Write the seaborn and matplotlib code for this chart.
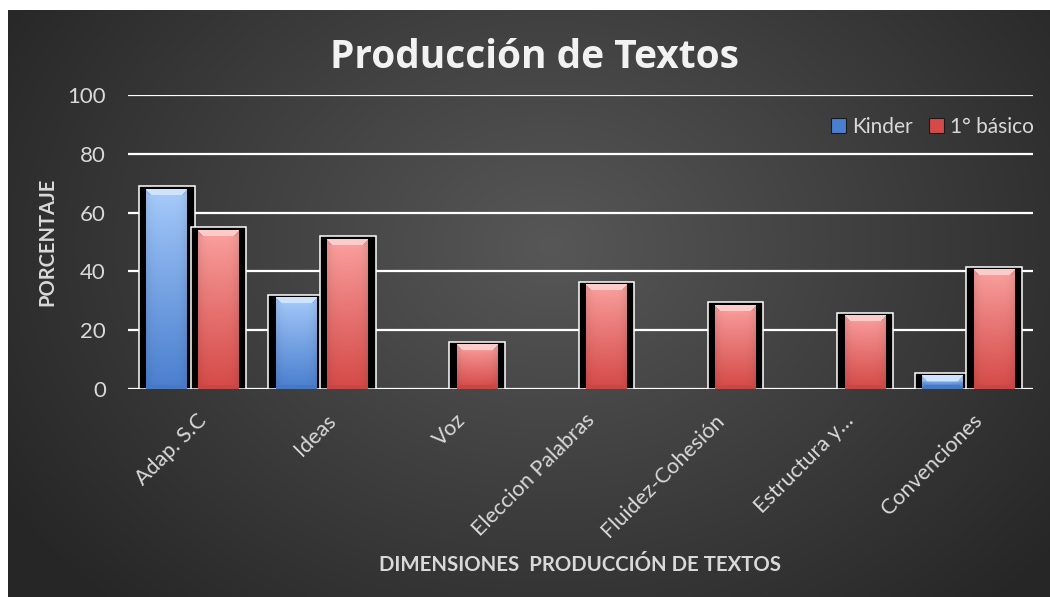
import numpy as np
import pandas as pd
import matplotlib
matplotlib.use("Agg")
import matplotlib.pyplot as plt
import matplotlib.transforms as mtransforms
import seaborn as sns
from matplotlib.patches import Patch
from matplotlib.colors import to_rgb

# ---------------- data ----------------
categories = ["Adap. S.C", "Ideas", "Voz", "Eleccion Palabras",
              "Fluidez-Cohesión", "Estructura y…", "Convenciones"]
series_names = ["Kinder", "1° básico"]
kinder = [68, 31, 0, 0, 0, 0, 4.5]
basico = [54, 51, 15, 35.5, 28.5, 25, 40.5]
yticks = [0, 20, 40, 60, 80, 100]

title = "Producción de Textos"
ylabel = "PORCENTAJE"
xlabel = "DIMENSIONES  PRODUCCIÓN DE TEXTOS"

df = pd.DataFrame({
    "cat": categories * 2,
    "serie": [series_names[0]] * len(categories) + [series_names[1]] * len(categories),
    "val": kinder + basico,
})

# ---------------- style ----------------
sns.set_style("dark")
plt.rcParams["font.family"] = ["Lato", "DejaVu Sans"]
TXT = "#d9d9d9"
top_cols = {"Kinder": "#a9cdfc", "1° básico": "#fba3a1"}
bot_cols = {"Kinder": "#4a7fcf", "1° básico": "#d54a48"}

W, H = 1050, 597
fig = plt.figure(figsize=(W / 100, H / 100), dpi=100, facecolor="white")

# background panel with radial gradient
bg = fig.add_axes([8 / W, 0, 1 - 8 / W, 1 - 10 / H])
bg.set_zorder(0)
ny, nx = 300, 520
yy, xx = np.mgrid[0:ny, 0:nx]
cx, cy = nx * 0.52, ny * 0.40
d = np.sqrt(((xx - cx) / (nx * 0.62)) ** 2 + ((yy - cy) / (ny * 0.85)) ** 2)
d = np.clip(d, 0, 1)
c_in = np.array(to_rgb("#575757"))
c_out = np.array(to_rgb("#262626"))
img = c_in[None, None, :] * (1 - d[..., None]) + c_out[None, None, :] * d[..., None]
bg.imshow(img, extent=[0, 1, 0, 1], aspect="auto", origin="upper", interpolation="bilinear")
bg.set_axis_off()

# main axes
ax = fig.add_axes([128 / W, 1 - 389 / H, (1033 - 128) / W, (389 - 95) / H])
ax.set_zorder(1)
ax.patch.set_alpha(0)

sns.barplot(data=df, x="cat", y="val", hue="serie", hue_order=series_names,
            palette={"Kinder": "black", "1° básico": "black"}, saturation=1,
            width=0.8, edgecolor="white", linewidth=1.1, ax=ax, legend=False,
            errorbar=None, zorder=3)

ax.set_xlim(-0.5, len(categories) - 0.5)
ax.set_ylim(0, 100)
ax.set_yticks(yticks)
ax.yaxis.grid(True, color="white", linewidth=1.6)
ax.xaxis.grid(False)
ax.set_axisbelow(True)
for s in ax.spines.values():
    s.set_visible(False)

# pixel -> data helper
px_y = 100 / ((389 - 95))

bars = [p for p in ax.patches]
n = len(categories)
for i, p in enumerate(bars):
    c = p.get_x() + p.get_width() / 2
    p.set_width(0.43)
    p.set_x(c - 0.215)
    p.set_facecolor("black")
    p.set_zorder(3)

for i, p in enumerate(bars):
    serie = series_names[i // n]
    h = p.get_height()
    if h <= 0:
        continue
    p.set_height(h + 3 * px_y)
    (x0, y0), (x1, y1) = ax.transData.transform([[p.get_x(), 0], [p.get_x() + p.get_width(), h]])
    xa, xb, ya, yb = x0 + 7.5, x1 - 7.5, y0, y1
    (dxa, dya), (dxb, dyb) = ax.transData.inverted().transform([[xa, ya], [xb, yb]])
    pw, ph = int(round(xb - xa)), int(round(yb - ya))
    if pw < 2 or ph < 2:
        continue
    t = np.array(to_rgb(top_cols[serie]))
    b = np.array(to_rgb(bot_cols[serie]))
    f = np.linspace(0, 1, ph)[:, None, None] ** 0.9
    arr = t * (1 - f) + b * f
    arr = np.repeat(arr, pw, axis=1)
    hx = np.linspace(-1, 1, pw)
    arr = arr * (1 - 0.08 * hx[None, :, None] ** 4)
    band = min(6, ph // 2)
    for r in range(band):
        for cc in range(pw):
            if r <= cc < pw - r:
                arr[r, cc] = np.clip(t * 0.55 + 0.45, 0, 1)
            else:
                arr[r, cc] = np.clip(t * 0.9, 0, 1)
    for r in range(min(4, ph // 3)):
        rr = ph - 1 - r
        for cc in range(pw):
            if r <= cc < pw - r:
                arr[rr, cc] = np.clip(b * 0.95, 0, 1)
    arr = np.clip(arr, 0, 1)
    ax.imshow(arr, extent=[dxa, dxb, dya, dyb], aspect="auto", origin="upper",
              interpolation="bilinear", zorder=4)

ax.set_xlim(-0.5, len(categories) - 0.5)
ax.set_ylim(0, 100)

ax.tick_params(axis="y", length=0, pad=16, labelsize=16, labelcolor=TXT)
ax.tick_params(axis="x", length=0, pad=8, labelsize=15.5, labelcolor=TXT)
ax.set_xticks(range(len(categories)))
ax.set_xticklabels(categories, rotation=45, ha="right", va="top", rotation_mode="anchor")
shift = mtransforms.ScaledTranslation(4 / 100, -10 / 100, fig.dpi_scale_trans)
for lab in ax.get_xticklabels():
    lab.set_transform(lab.get_transform() + shift)
ax.set_xlabel("")
ax.set_ylabel("")

fig.text(535 / W, 1 - 58 / H, title, ha="center", va="center", color="#f2f2f2",
         fontsize=28, fontweight="bold", family=["Open Sans", "DejaVu Sans"])
fig.text(47 / W, 1 - 242 / H, ylabel, ha="center", va="center", rotation=90,
         color=TXT, fontsize=14.5, fontweight="bold")
fig.text(580 / W, 1 - 565 / H, xlabel, ha="center", va="center",
         color=TXT, fontsize=14.7, fontweight="bold")

handles = [Patch(facecolor=bot_cols[s], edgecolor="#1a1a1a", linewidth=0.8) for s in series_names]
fig.legend(handles, series_names, loc="center right", bbox_to_anchor=(1034 / W, 1 - 127 / H),
           ncol=2, frameon=False, fontsize=15, labelcolor=TXT, handlelength=0.7,
           handleheight=0.7, handletextpad=0.3, columnspacing=0.8, borderpad=0,
           borderaxespad=0)

fig.savefig("out.png", dpi=100, facecolor="white")
